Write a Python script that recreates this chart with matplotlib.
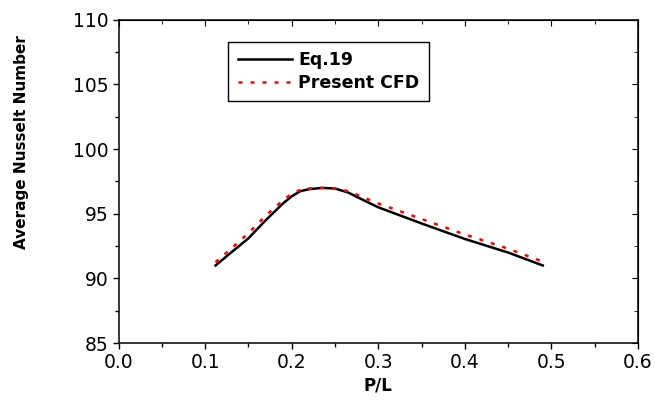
import matplotlib
matplotlib.use("Agg")
import matplotlib.pyplot as plt
from matplotlib.ticker import MultipleLocator

plt.rcParams["font.family"] = ["DejaVu Sans"]

# Eq.19 curve
eq_x = [0.112, 0.13, 0.15, 0.17, 0.19, 0.20, 0.21, 0.22, 0.235, 0.25, 0.265, 0.28, 0.30, 0.35, 0.40, 0.45, 0.49]
eq_y = [91.0, 92.0, 93.1, 94.5, 95.8, 96.35, 96.75, 96.9, 97.0, 96.95, 96.65, 96.15, 95.5, 94.25, 93.05, 92.0, 91.0]

# Present CFD curve
cfd_x = [0.112, 0.13, 0.15, 0.17, 0.19, 0.20, 0.21, 0.22, 0.235, 0.25, 0.265, 0.28, 0.30, 0.35, 0.40, 0.45, 0.49]
cfd_y = [91.25, 92.3, 93.5, 94.85, 96.05, 96.55, 96.85, 96.95, 97.0, 96.95, 96.75, 96.35, 95.8, 94.6, 93.4, 92.3, 91.3]

fig = plt.figure(figsize=(6.55, 4.05), dpi=100)
ax = fig.add_axes([0.181, 0.153, 0.793, 0.798])

ax.plot(eq_x, eq_y, color="black", lw=1.8, label="Eq.19")
ax.plot(cfd_x, cfd_y, color="red", lw=1.8, dashes=(1.6, 3.2), label="Present CFD")

ax.set_xlim(0.0, 0.6)
ax.set_ylim(85, 110)
ax.xaxis.set_major_locator(MultipleLocator(0.1))
ax.xaxis.set_minor_locator(MultipleLocator(0.05))
ax.yaxis.set_major_locator(MultipleLocator(5))
ax.yaxis.set_minor_locator(MultipleLocator(2.5))
ax.xaxis.set_major_formatter(lambda v, p: "%.1f" % v)

ax.tick_params(which="both", direction="out", labelsize=13.5, width=1)
ax.tick_params(which="major", length=4.5, pad=3)
ax.tick_params(which="minor", length=3)
for s in ax.spines.values():
    s.set_linewidth(1.1)

# mirrored ticks on top/right pointing inward
top = ax.secondary_xaxis("top")
top.xaxis.set_major_locator(MultipleLocator(0.1))
top.xaxis.set_minor_locator(MultipleLocator(0.05))
top.tick_params(which="both", direction="in", labeltop=False)
top.tick_params(which="major", length=4.5)
top.tick_params(which="minor", length=3)
right = ax.secondary_yaxis("right")
right.yaxis.set_major_locator(MultipleLocator(5))
right.yaxis.set_minor_locator(MultipleLocator(2.5))
right.tick_params(which="both", direction="in", labelright=False)
right.tick_params(which="major", length=4.5)
right.tick_params(which="minor", length=3)

ax.set_xlabel("P/L", fontsize=12, fontweight="bold")
ax.xaxis.set_label_coords(0.5, -0.105)
ax.set_ylabel("Average Nusselt Number", fontsize=11, fontweight="bold")
ax.yaxis.set_label_coords(-0.172, 0.622)

leg = ax.legend(loc="upper left", bbox_to_anchor=(0.211, 0.932), fancybox=False,
                edgecolor="black", framealpha=1, handlelength=3.1, handletextpad=0.4,
                borderpad=0.55, labelspacing=0.25, borderaxespad=0,
                prop={"weight": "bold", "size": 12.5})
leg.get_frame().set_linewidth(1)

fig.savefig("out.png", dpi=100)
print("wrote out.png")
